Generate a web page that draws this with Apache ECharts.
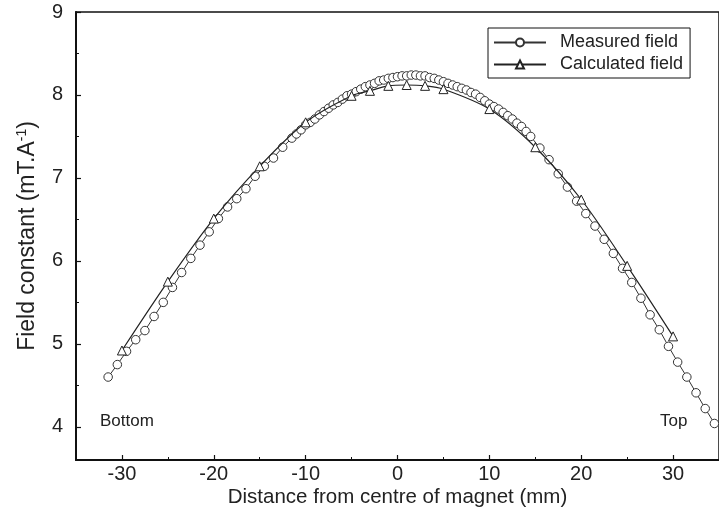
<!DOCTYPE html>
<html>
<head>
<meta charset="utf-8">
<script src="https://cdn.jsdelivr.net/npm/echarts@6/dist/echarts.min.js"></script>
<style>html,body{margin:0;padding:0;background:#fff}#c{width:719px;height:529px}</style>
</head>
<body>
<div id="c"></div>
<script>
// Measured field (mm, mT/A)
const measuredX = [-31.5,-30.5,-29.5,-28.5,-27.5,-26.5,-25.5,-24.5,-23.5,-22.5,-21.5,-20.5,-19.5,-18.5,-17.5,-16.5,-15.5,-14.5,-13.5,-12.5,-11.5,
  -11.0,-10.5,-10.0,-9.5,-9.0,-8.5,-8.0,-7.5,-7.0,-6.5,-6.0,-5.5,-5.0,-4.5,-4.0,-3.5,-3.0,-2.5,-2.0,-1.5,-1.0,-0.5,
  0.0,0.5,1.0,1.5,2.0,2.5,3.0,3.5,4.0,4.5,5.0,5.5,6.0,6.5,7.0,7.5,8.0,8.5,9.0,9.5,10.0,10.5,11.0,11.5,12.0,12.5,13.0,13.5,14.0,14.5,
  15.5,16.5,17.5,18.5,19.5,20.5,21.5,22.5,23.5,24.5,25.5,26.5,27.5,28.5,29.5,30.5,31.5,32.5,33.5,34.5];
const measuredY = [4.60,4.75,4.91,5.05,5.16,5.33,5.50,5.68,5.86,6.03,6.19,6.35,6.51,6.65,6.75,6.87,7.02,7.14,7.24,7.37,7.48,
  7.53,7.58,7.64,7.67,7.71,7.76,7.80,7.84,7.88,7.91,7.95,7.99,8.01,8.04,8.07,8.10,8.12,8.14,8.17,8.18,8.20,8.21,
  8.22,8.23,8.23,8.24,8.24,8.23,8.23,8.21,8.20,8.18,8.16,8.14,8.12,8.10,8.08,8.06,8.03,8.01,7.97,7.93,7.89,7.86,7.83,7.79,7.75,7.71,7.66,7.62,7.56,7.50,
  7.36,7.22,7.05,6.89,6.72,6.57,6.42,6.26,6.09,5.91,5.74,5.55,5.35,5.17,4.97,4.78,4.60,4.41,4.22,4.04];
// Calculated field
const calcX = [-30,-25,-20,-15,-10,-5,-3,-1,1,3,5,10,15,20,25,30];
const calcY = [4.92,5.75,6.51,7.14,7.67,7.99,8.05,8.11,8.12,8.11,8.07,7.83,7.37,6.74,5.94,5.09];
// Tick labels
const xTicks = [-30,-20,-10,0,10,20,30];
const xMinorTicks = [-25,-15,-5,5,15,25];
const yTicks = [4,5,6,7,8,9];
const yMinorTicks = [4.5,5.5,6.5,7.5,8.5];

const zip = (a, b) => a.map((v, i) => [v, b[i]]);
const FONT = '"Liberation Sans", Arial, Helvetica, sans-serif';
const chart = echarts.init(document.getElementById('c'), null, {renderer: 'canvas'});
const baseX = {type: 'value', min: -35, max: 35, position: 'bottom', offset: 0, splitLine: {show: false}};
const baseY = {type: 'value', min: 3.6, max: 9, position: 'left', offset: 0, splitLine: {show: false}};
chart.setOption({
  animation: false,
  backgroundColor: '#fff',
  grid: {left: 76, top: 12, bottom: 69, right: -10, show: true, borderColor: '#111', borderWidth: 1.5, containLabel: false},
  xAxis: [
    Object.assign({}, baseX, {
      name: 'Distance from centre of magnet (mm)', nameLocation: 'middle', nameGap: 27, nameMoveOverlap: false,
      nameTextStyle: {fontSize: 20.5, color: '#222', fontFamily: FONT, verticalAlign: 'top'},
      axisLine: {onZero: false, lineStyle: {color: '#111', width: 2}},
      axisTick: {inside: true, length: 5, customValues: xTicks, lineStyle: {color: '#111', width: 1.2}},
      axisLabel: {customValues: xTicks, fontSize: 20, color: '#222', fontFamily: FONT, margin: 4}
    }),
    Object.assign({}, baseX, {
      axisLine: {show: false, onZero: false},
      axisTick: {inside: true, length: 3, customValues: xMinorTicks, lineStyle: {color: '#111', width: 1}},
      axisLabel: {show: false}
    })
  ],
  yAxis: [
    Object.assign({}, baseY, {
      name: 'Field constant (mT.A{sup|-1})', nameLocation: 'middle', nameGap: 36,
      nameTextStyle: {fontSize: 23, color: '#222', fontFamily: FONT,
        rich: {sup: {fontSize: 14, color: '#222', fontFamily: FONT, padding: [0, 0, 11, 0]}}},
      axisLine: {onZero: false, lineStyle: {color: '#111', width: 2}},
      axisTick: {inside: true, length: 5, customValues: yTicks, lineStyle: {color: '#111', width: 1.2}},
      axisLabel: {customValues: yTicks, fontSize: 20, color: '#222', fontFamily: FONT, margin: 13}
    }),
    Object.assign({}, baseY, {
      axisLine: {show: false, onZero: false},
      axisTick: {inside: true, length: 3, customValues: yMinorTicks, lineStyle: {color: '#111', width: 1}},
      axisLabel: {show: false}
    })
  ],
  legend: {
    orient: 'vertical', left: 488, top: 28, itemWidth: 52, itemHeight: 10, itemGap: 3,
    padding: [5, 7, 4, 5],
    borderColor: '#111', borderWidth: 1, backgroundColor: '#fff',
    textStyle: {fontSize: 18, color: '#222', fontFamily: FONT, padding: [0, 0, 0, 9], lineHeight: 19},
    data: ['Measured field', 'Calculated field']
  },
  graphic: [
    {type: 'text', left: 100, top: 413, style: {text: 'Bottom', fontSize: 17, fill: '#222', fontFamily: FONT}},
    {type: 'text', left: 660, top: 413, style: {text: 'Top', fontSize: 17, fill: '#222', fontFamily: FONT}}
  ],
  series: [
    {
      name: 'Measured field', type: 'line', data: zip(measuredX, measuredY),
      symbol: 'circle', symbolSize: 8.5, showSymbol: true, showAllSymbol: true,
      itemStyle: {color: '#fff', borderColor: '#333', borderWidth: 1},
      lineStyle: {color: '#333', width: 1}, z: 2
    },
    {
      name: 'Calculated field', type: 'line', data: zip(calcX, calcY), smooth: 0.3,
      symbol: 'triangle', symbolSize: 9, showSymbol: true,
      itemStyle: {color: '#fff', borderColor: '#222', borderWidth: 1},
      lineStyle: {color: '#222', width: 1.2}, z: 3
    }
  ]
});
</script>
</body>
</html>
